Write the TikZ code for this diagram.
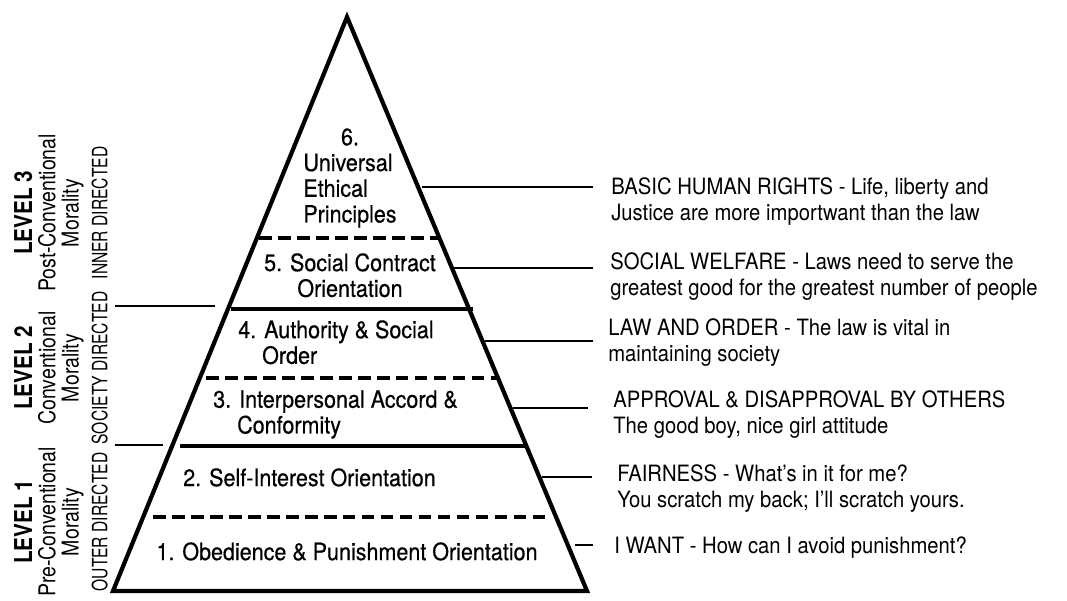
\documentclass[tikz,border=0pt]{standalone}
\usepackage{fontspec}
\setmainfont[FakeStretch=0.9]{TeX Gyre Heros}
\newfontfamily\stagefont[FakeStretch=0.9,FakeBold=0.5]{TeX Gyre Heros}
\newfontfamily\narrowfont[FakeStretch=0.84]{TeX Gyre Heros}
\newfontfamily\capsfont[FakeStretch=0.74]{TeX Gyre Heros}

\begin{document}
\begin{tikzpicture}[
    x=0.025cm, y=0.025cm,
    pyr/.style={line width=3pt},
    divider/.style={line width=2.6pt},
    dashdiv/.style={divider, dash pattern=on 9pt off 4.5pt},
    leader/.style={line width=1.3pt},
    stage/.style={inner sep=0pt, font=\stagefont\fontsize{17}{18.3}\selectfont},
    note/.style={anchor=north west, align=left, inner sep=0pt, font=\fontsize{16}{18.5}\selectfont},
    level/.style={rotate=90, align=center, inner sep=0pt, font=\narrowfont\fontsize{16.5}{16.5}\selectfont}
]
\useasboundingbox (0,0) rectangle (1067,600);

% Pyramid outline
\coordinate (apex) at (347,583);
\coordinate (bl) at (113,9);
\coordinate (br) at (587,9);
\draw[pyr] (apex) -- (br) -- (bl) -- cycle;

% Borders between the stages
\draw[dashdiv] (259,362) -- (439,362);
\draw[divider] (231,291) -- (473,291);
\draw[dashdiv] (206,222) -- (499,222);
\draw[divider] (180,154) -- (527,154);
\draw[dashdiv] (153,83) -- (548,83);

% Stages
\node[stage, anchor=north] (s6) at (350,473)
    {\begin{tabular}{@{}l@{}}\multicolumn{1}{@{}c@{}}{6.}\\Universal\\Ethical\\Principles\end{tabular}};
\node[stage, anchor=north, align=center] (s5) at (350,347) {5. Social Contract\\Orientation};
\node[stage, anchor=north west, align=left] (s4) at (238,280) {4. Authority \& Social\\\phantom{4.~}Order};
\node[stage, anchor=north west, align=left] (s3) at (213,210) {3. Interpersonal Accord \&\\\phantom{3.~}Conformity};
\node[stage, anchor=north west] (s2) at (183,132) {2. Self-Interest Orientation};
\node[stage, anchor=north] (s1) at (347,58) {1. Obedience \& Punishment Orientation};

% Descriptions
\node[note] (n6) at (611,423) {BASIC HUMAN RIGHTS - Life, liberty and\\Justice are more importwant than the law};
\node[note] (n5) at (610,348) {SOCIAL WELFARE - Laws need to serve the\\greatest good for the greatest number of people};
\node[note] (n4) at (608,282) {LAW AND ORDER - The law is vital in\\maintaining society};
\node[note] (n3) at (613,210) {APPROVAL \& DISAPPROVAL BY OTHERS\\The good boy, nice girl attitude};
\node[note] (n2) at (617,136) {FAIRNESS - What's in it for me?\\You scratch my back; I'll scratch yours.};
\node[note] (n1) at (614,63) {I WANT - How can I avoid punishment?};

% Leaders from the pyramid to the descriptions
\foreach \n/\xa/\xb/\y in {6/422/593/413, 5/453/593/332, 4/485/593/259, 3/513/588/192, 2/542/592/123, 1/575/593/55} {
    \coordinate (e\n) at (\xa,\y);
    \coordinate (f\n) at (\xb,\y);
    \draw[leader] (e\n) -- (f\n);
}

% Levels
\newcommand\lvtitle[1]{{\fontsize{17.5}{16.5}\selectfont\bfseries #1}}
\newcommand\lvdir[1]{{\capsfont\fontsize{15}{16.5}\selectfont #1}}
\node[level] (lv3) at (61,387) {\lvtitle{LEVEL 3}\\Post-Conventional\\Morality\\[4pt]\lvdir{INNER DIRECTED}};
\node[level] (lv2) at (61,232) {\lvtitle{LEVEL 2}\\Conventional\\Morality\\[4pt]\lvdir{SOCIETY DIRECTED}};
\node[level] (lv1) at (61,78) {\lvtitle{LEVEL 1}\\Pre-Conventional\\Morality\\[4pt]\lvdir{OUTER DIRECTED}};

% Level borders
\coordinate (g2) at (115,294);
\coordinate (h2) at (215,294);
\coordinate (g1) at (115,155);
\coordinate (h1) at (163,155);
\draw[leader] (g2) -- (h2);
\draw[leader] (g1) -- (h1);

\end{tikzpicture}
\end{document}
